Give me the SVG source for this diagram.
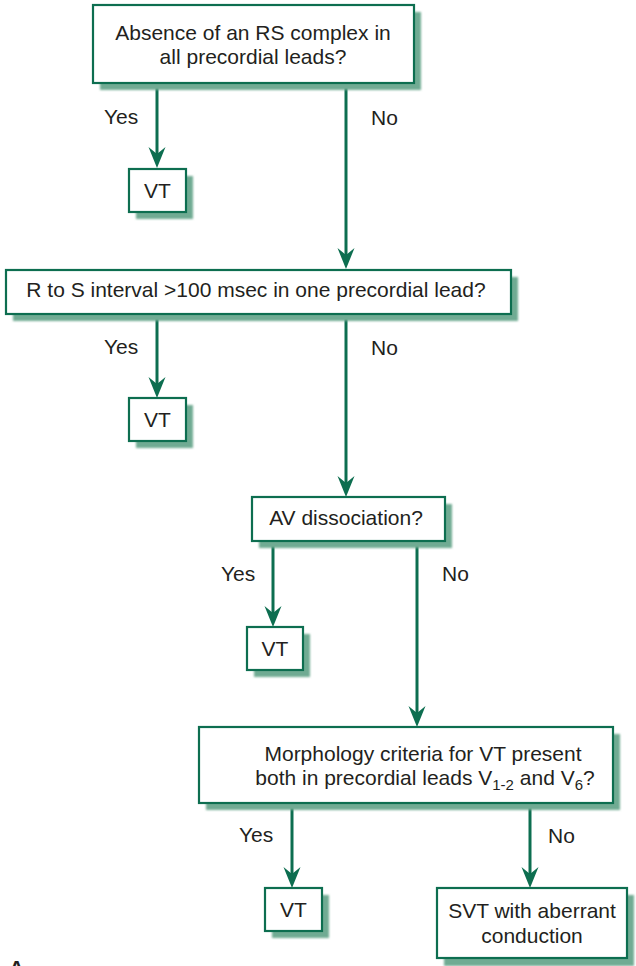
<svg xmlns="http://www.w3.org/2000/svg" width="636" height="966" viewBox="0 0 636 966">
<style>
text{font-family:"Liberation Sans",Arial,Helvetica,sans-serif;font-size:21px;fill:#231f20}
.box{fill:#fff;stroke:#0d6e50;stroke-width:2.2}
.sh{fill:#6fab93;filter:url(#blur)}
.c{stroke:#0d6e50;stroke-width:3;fill:none}
.ah{fill:#0d6e50}
.m{text-anchor:middle}
</style>
<defs>
<filter id="blur" x="-10%" y="-10%" width="120%" height="130%"><feGaussianBlur stdDeviation="1.2"/></filter>
<path id="arr" d="M0,0 L-8.5,-21 L0,-14 L8.5,-21 Z"/>
</defs>
<rect width="636" height="966" fill="#fff"/>

<g id="connectors">
<line class="c" x1="157" y1="84" x2="157" y2="155"/><use href="#arr" class="ah" x="157" y="168"/>
<line class="c" x1="346" y1="84" x2="346" y2="255"/><use href="#arr" class="ah" x="346" y="269"/>
<line class="c" x1="157" y1="315" x2="157" y2="385"/><use href="#arr" class="ah" x="157" y="398"/>
<line class="c" x1="346" y1="315" x2="346" y2="484"/><use href="#arr" class="ah" x="346" y="497"/>
<line class="c" x1="273" y1="542" x2="273" y2="614"/><use href="#arr" class="ah" x="273" y="627"/>
<line class="c" x1="417" y1="542" x2="417" y2="714"/><use href="#arr" class="ah" x="417" y="727"/>
<line class="c" x1="292" y1="804" x2="292" y2="875"/><use href="#arr" class="ah" x="292" y="888"/>
<line class="c" x1="530" y1="804" x2="530" y2="875"/><use href="#arr" class="ah" x="530" y="888"/>
<text x="104" y="124">Yes</text>
<text x="371" y="125">No</text>
<text x="104" y="354">Yes</text>
<text x="371" y="355">No</text>
<text x="221" y="581">Yes</text>
<text x="442" y="581">No</text>
<text x="239" y="842">Yes</text>
<text x="548" y="843">No</text>
</g>

<g id="q1">
<rect class="sh" x="100" y="12" width="321" height="78"/>
<rect class="box" x="93" y="5" width="321" height="78"/>
<text class="m" x="253" y="40">Absence of an RS complex in</text>
<text class="m" x="253" y="64">all precordial leads?</text>
</g>

<g id="vt1">
<rect class="sh" x="136" y="176" width="57" height="43"/>
<rect class="box" x="129" y="169" width="57" height="43"/>
<text class="m" x="157.5" y="198">VT</text>
</g>

<g id="q2">
<rect class="sh" x="13" y="277" width="505" height="44"/>
<rect class="box" x="6" y="270" width="505" height="44"/>
<text class="m" x="256" y="297">R to S interval &gt;100 msec in one precordial lead?</text>
</g>

<g id="vt2">
<rect class="sh" x="136" y="405" width="57" height="43"/>
<rect class="box" x="129" y="398" width="57" height="43"/>
<text class="m" x="157.5" y="427">VT</text>
</g>

<g id="q3">
<rect class="sh" x="259" y="504" width="193" height="44"/>
<rect class="box" x="252" y="497" width="193" height="44"/>
<text class="m" x="346" y="525">AV dissociation?</text>
</g>

<g id="vt3">
<rect class="sh" x="254" y="634" width="56" height="43"/>
<rect class="box" x="247" y="627" width="56" height="43"/>
<text class="m" x="275" y="656">VT</text>
</g>

<g id="q4">
<rect class="sh" x="206" y="734" width="414" height="76"/>
<rect class="box" x="199" y="727" width="414" height="76"/>
<text class="m" x="423" y="761">Morphology criteria for VT present</text>
<text class="m" x="425" y="785">both in precordial leads V<tspan font-size="15" dy="5">1-2</tspan><tspan dy="-5"> and V</tspan><tspan font-size="15" dy="5">6</tspan><tspan dy="-5">?</tspan></text>
</g>

<g id="vt4">
<rect class="sh" x="272" y="895" width="57" height="43"/>
<rect class="box" x="265" y="888" width="57" height="43"/>
<text class="m" x="293.5" y="917">VT</text>
</g>

<g id="svt">
<rect class="sh" x="444" y="895" width="190" height="71"/>
<rect class="box" x="437" y="888" width="190" height="70"/>
<text class="m" x="532" y="918">SVT with aberrant</text>
<text class="m" x="532" y="943">conduction</text>
</g>

<text x="9" y="975" font-weight="bold" font-size="20">A</text>
</svg>
